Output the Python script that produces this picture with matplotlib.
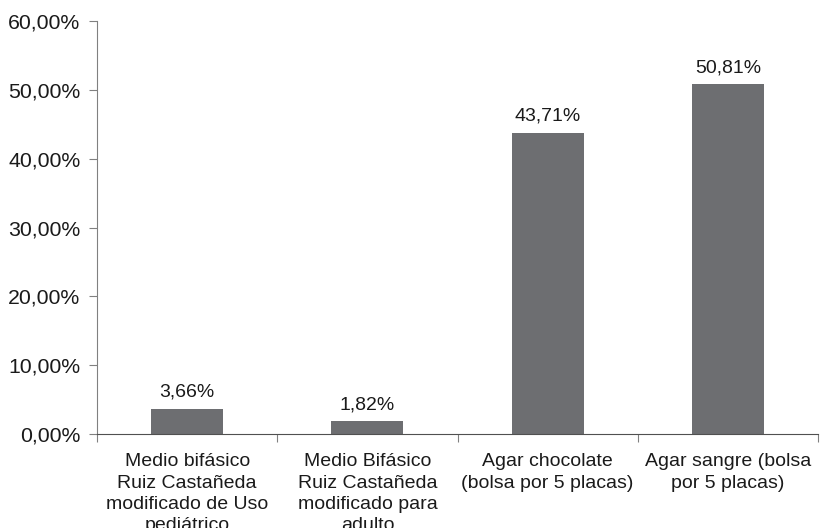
import matplotlib
matplotlib.use("Agg")
import matplotlib.pyplot as plt
import numpy as np

plt.rcParams['font.family'] = ['Liberation Sans', 'DejaVu Sans']

categories = [
    "Medio bifásico\nRuiz Castañeda\nmodificado de Uso\npediátrico",
    "Medio Bifásico\nRuiz Castañeda\nmodificado para\nadulto",
    "Agar chocolate\n(bolsa por 5 placas)",
    "Agar sangre (bolsa\npor 5 placas)",
]
values = [3.66, 1.82, 43.71, 50.81]
value_labels = ["3,66%", "1,82%", "43,71%", "50,81%"]
yticks = [0, 10, 20, 30, 40, 50, 60]
ytick_labels = ["0,00%", "10,00%", "20,00%", "30,00%", "40,00%", "50,00%", "60,00%"]

bar_color = "#6d6e71"
axis_color = "#808080"
text_color = "#1a1a1a"

fig = plt.figure(figsize=(8.25, 5.28), dpi=100)
ax = fig.add_axes([0.1176, 0.178, 0.874, 0.782])

x = np.arange(len(categories))
ax.bar(x, values, width=0.4, color=bar_color)

for xi, v, lab in zip(x, values, value_labels):
    ax.text(xi, v + 1.2, lab, ha="center", va="bottom", fontsize=14, color=text_color)

ax.set_xlim(-0.5, len(categories) - 0.5)
ax.set_ylim(0, 60)
ax.set_yticks(yticks)
ax.set_yticklabels(ytick_labels, fontsize=15.3, color=text_color)

# boundaries as major ticks, labels at centers as minor ticks
ax.set_xticks(np.arange(len(categories) + 1) - 0.5)
ax.set_xticklabels([])
ax.set_xticks(x, minor=True)
ax.set_xticklabels(categories, minor=True, fontsize=14, color=text_color, linespacing=1.32)
ax.tick_params(axis="x", which="minor", length=0, pad=14)
ax.tick_params(axis="x", which="major", length=6, color=axis_color, direction="out")
ax.tick_params(axis="y", length=6, color=axis_color, direction="out", pad=6)

for s in ["top", "right"]:
    ax.spines[s].set_visible(False)
ax.spines["left"].set_color(axis_color)
ax.spines["bottom"].set_color("#505050")

fig.savefig("out.png", dpi=100)
